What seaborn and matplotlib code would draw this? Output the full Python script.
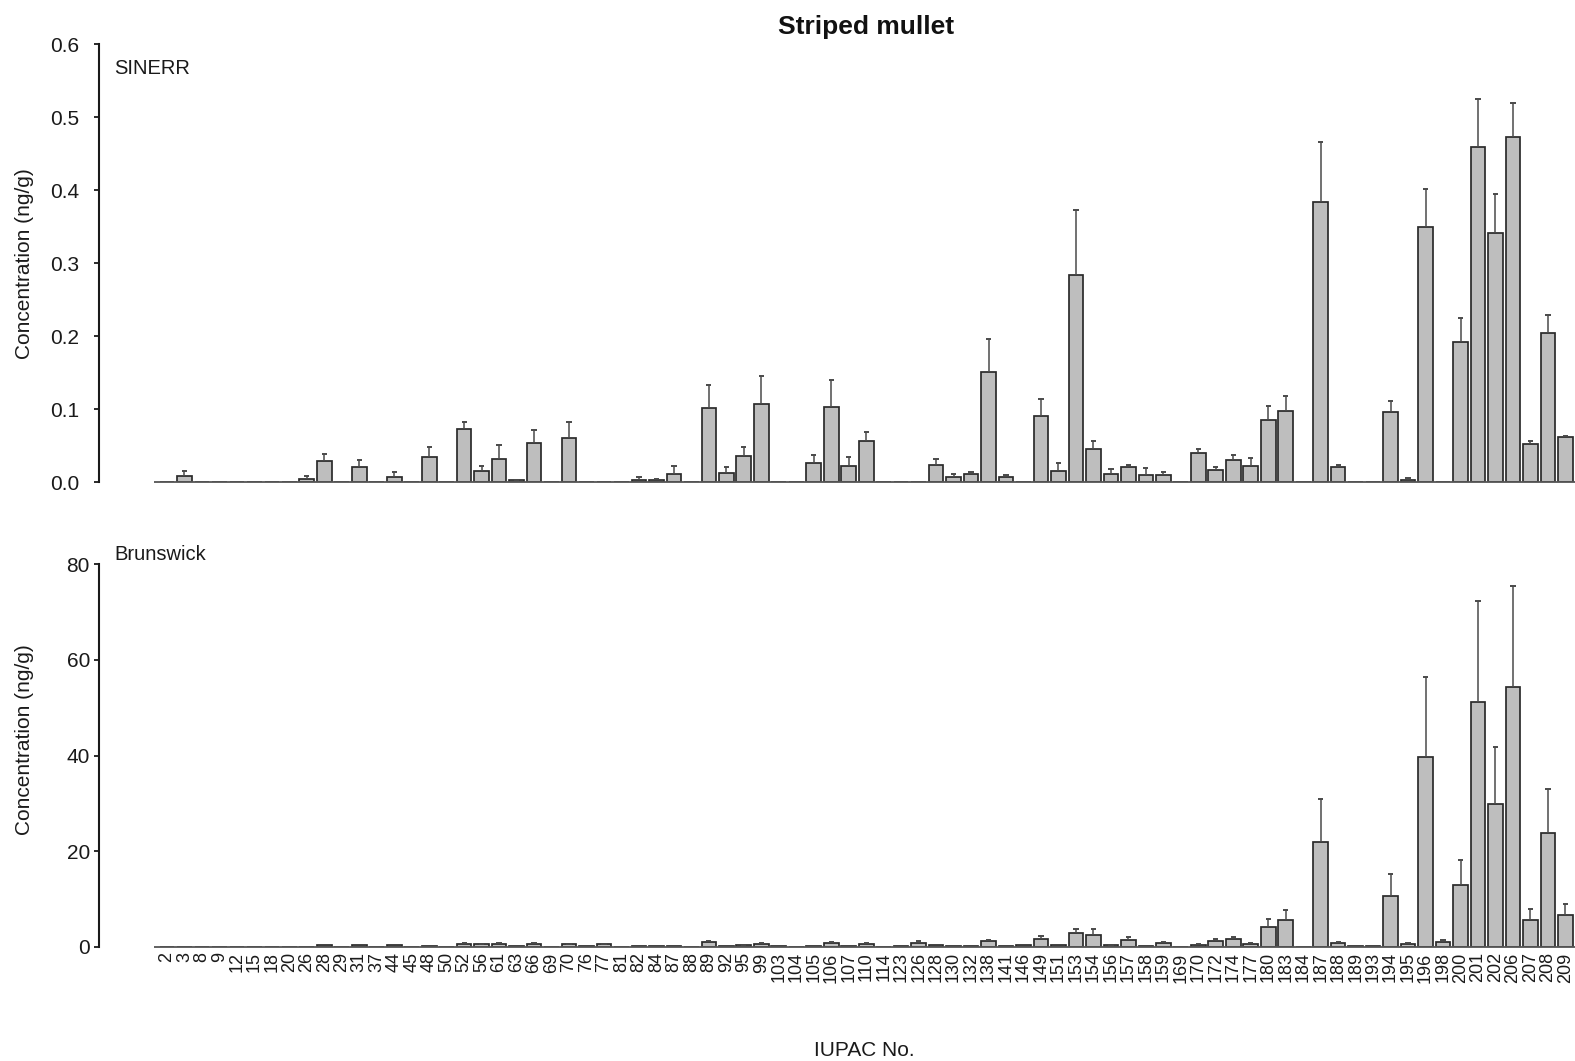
import numpy as np
import pandas as pd
import matplotlib
matplotlib.use("Agg")
import matplotlib.pyplot as plt
import seaborn as sns

# PCB congeners (IUPAC numbers)
congeners = [2, 3, 8, 9, 12, 15, 18, 20, 26, 28, 29, 31, 37, 44, 45, 48, 50,
             52, 56, 61, 63, 66, 69, 70, 76, 77, 81, 82, 84, 87, 88, 89, 92,
             95, 99, 103, 104, 105, 106, 107, 110, 114, 123, 126, 128, 130,
             132, 138, 141, 146, 149, 151, 153, 154, 156, 157, 158, 159, 169,
             170, 172, 174, 177, 180, 183, 184, 187, 188, 189, 193, 194, 195,
             196, 198, 200, 201, 202, 206, 207, 208, 209]

# SINERR mean concentration (ng/g) and standard error
sinerr_mean = [0, 0.008, 0, 0, 0, 0, 0, 0, 0.0046, 0.029, 0, 0.0216, 0, 0.0073,
               0, 0.034, 0, 0.073, 0.015, 0.0326, 0.0027, 0.0537, 0, 0.060, 0,
               0, 0, 0.0037, 0.0027, 0.011, 0, 0.102, 0.0128, 0.0365, 0.107, 0,
               0, 0.0265, 0.103, 0.0228, 0.056, 0, 0, 0, 0.0237, 0.0073,
               0.0114, 0.151, 0.0068, 0, 0.091, 0.0155, 0.284, 0.045, 0.011,
               0.0205, 0.010, 0.010, 0, 0.0397, 0.017, 0.031, 0.0224, 0.086,
               0.0977, 0, 0.384, 0.0205, 0, 0, 0.0968, 0.0037, 0.350, 0,
               0.192, 0.459, 0.3416, 0.473, 0.052, 0.2046, 0.0616]
sinerr_se = [0, 0.008, 0, 0, 0, 0, 0, 0, 0.004, 0.010, 0, 0.0085, 0, 0.007,
             0, 0.015, 0, 0.010, 0.007, 0.018, 0.001, 0.018, 0, 0.022, 0,
             0, 0, 0.0036, 0.002, 0.011, 0, 0.031, 0.008, 0.0115, 0.039, 0,
             0, 0.0105, 0.037, 0.012, 0.0125, 0, 0, 0, 0.008, 0.0037,
             0.0032, 0.045, 0.0037, 0, 0.023, 0.011, 0.089, 0.0115, 0.007,
             0.0035, 0.010, 0.0037, 0, 0.0063, 0.0035, 0.007, 0.011, 0.019,
             0.021, 0, 0.082, 0.0035, 0, 0, 0.0145, 0.0027, 0.052, 0,
             0.033, 0.066, 0.054, 0.047, 0.005, 0.0245, 0.002]

# Brunswick mean concentration (ng/g) and standard error
brunswick_mean = [0, 0, 0, 0, 0, 0, 0, 0, 0, 0.35, 0, 0.28, 0, 0.4, 0, 0.2, 0,
                  0.6, 0.5, 0.55, 0.2, 0.6, 0, 0.55, 0.15, 0.5, 0, 0.1, 0.1,
                  0.15, 0, 0.9, 0.2, 0.35, 0.6, 0.05, 0, 0.2, 0.75, 0.1, 0.55,
                  0, 0.05, 0.75, 0.3, 0.2, 0.15, 1.2, 0.15, 0.3, 1.6, 0.35,
                  2.8, 2.44, 0.28, 1.46, 0.1, 0.7, 0, 0.35, 1.19, 1.53, 0.56,
                  4.1, 5.5, 0, 22.0, 0.77, 0.05, 0.05, 10.7, 0.56, 39.7, 0.98,
                  13.0, 51.2, 29.8, 54.3, 5.6, 23.7, 6.55]
brunswick_se = [0, 0, 0, 0, 0, 0, 0, 0, 0, 0, 0, 0, 0, 0, 0, 0, 0,
                0.17, 0.1, 0.15, 0, 0.15, 0, 0.1, 0, 0.1, 0, 0, 0,
                0, 0, 0.3, 0, 0.1, 0.15, 0, 0, 0, 0.25, 0, 0.12,
                0, 0, 0.35, 0, 0, 0, 0.15, 0, 0, 0.6, 0,
                1.0, 1.16, 0.1, 0.5, 0, 0.2, 0, 0.15, 0.4, 0.5, 0.15,
                1.7, 2.2, 0, 9.0, 0.28, 0, 0, 4.5, 0.15, 16.8, 0.4,
                5.1, 21.2, 12.0, 21.2, 2.2, 9.2, 2.35]

sinerr_ticks = [0.0, 0.1, 0.2, 0.3, 0.4, 0.5, 0.6]
brunswick_ticks = [0, 20, 40, 60, 80]

labels = [str(c) for c in congeners]
df = pd.DataFrame({
    "congener": labels,
    "sinerr": sinerr_mean,
    "sinerr_se": sinerr_se,
    "brunswick": brunswick_mean,
    "brunswick_se": brunswick_se,
})

sns.set_style("white")
plt.rcParams["font.family"] = ["Liberation Sans", "DejaVu Sans"]

W, H = 1575, 1061
fig = plt.figure(figsize=(W / 100, H / 100), dpi=100)

left = 99 / W
width = (W - 99) / W
ax1 = fig.add_axes([left, 1 - 482.3 / H, width, 438 / H])
ax2 = fig.add_axes([left, 1 - 946.7 / H, width, 382.4 / H])

bar_fill = "#bebebe"
bar_edge = "#2a2a2a"
err_color = "#4a4a4a"
cap_half = 0.15


def draw_panel(ax, col, se_col, ylim, ticks, tick_fmt, tick_pad):
    sns.barplot(data=df, x="congener", y=col, order=labels, color=bar_fill,
                saturation=1, edgecolor=bar_edge, linewidth=1.25, width=0.84,
                errorbar=None, ax=ax)
    pos = np.arange(len(labels))
    vals = df[col].to_numpy()
    errs = df[se_col].to_numpy()
    m = errs > 0
    ax.vlines(pos[m], vals[m], vals[m] + errs[m], color=err_color, lw=1.1,
              zorder=1)
    ax.hlines(vals[m] + errs[m], pos[m] - cap_half, pos[m] + cap_half,
              color=err_color, lw=1.4, zorder=3)
    # baseline under the bars
    ax.hlines(0, -0.74, len(labels) + 1, color="#555555", lw=1.3,
              clip_on=False, zorder=4)
    ax.set_xlim(-3.89, 80.55)
    ax.set_ylim(*ylim)
    ax.set_yticks(ticks)
    ax.set_yticklabels([tick_fmt.format(t) for t in ticks])
    for s in ("top", "right", "bottom"):
        ax.spines[s].set_visible(False)
    ax.spines["left"].set_color("#1a1a1a")
    ax.spines["left"].set_linewidth(1.5)
    ax.tick_params(axis="y", which="major", left=True, direction="out",
                   length=3.5, width=1.3, color="#1a1a1a", labelsize=15,
                   pad=tick_pad, labelcolor="#1a1a1a")
    ax.set_xlabel("")
    ax.set_ylabel("")


draw_panel(ax1, "sinerr", "sinerr_se", (0, 0.6), sinerr_ticks, "{:.1f}", 10.5)
draw_panel(ax2, "brunswick", "brunswick_se", (0, 80), brunswick_ticks, "{:.0f}", 3)

ax1.set_xticks([])
ax2.set_xticks(np.arange(len(labels)))
ax2.set_xticklabels(labels, rotation=90, fontsize=13, color="#1a1a1a")
ax2.tick_params(axis="x", bottom=False, length=0, pad=4)

fig.text(866 / W, 1 - 27 / H, "Striped mullet", ha="center", va="center",
         fontsize=19, fontweight="bold", color="#111111")
fig.text(114 / W, 1 - 68 / H, "SINERR", ha="left", va="center",
         fontsize=14.5, color="#1a1a1a")
fig.text(114 / W, 1 - 555 / H, "Brunswick", ha="left", va="center",
         fontsize=14.5, color="#1a1a1a")
fig.text(25 / W, 1 - 264 / H, "Concentration (ng/g)", rotation=90,
         ha="center", va="center", fontsize=15, color="#1a1a1a")
fig.text(25 / W, 1 - 739.5 / H, "Concentration (ng/g)", rotation=90,
         ha="center", va="center", fontsize=15, color="#1a1a1a")
fig.text(864 / W, 1 - 1050 / H, "IUPAC No.", ha="center", va="center",
         fontsize=15, color="#1a1a1a")

fig.savefig("out.png", dpi=100)
